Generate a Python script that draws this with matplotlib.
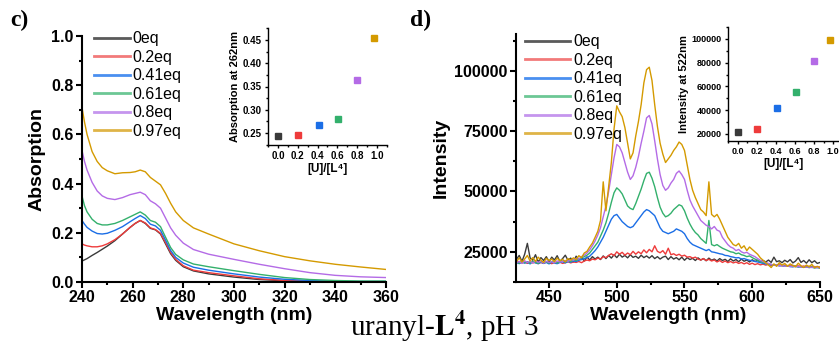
import matplotlib
matplotlib.use("Agg")
import matplotlib.pyplot as plt
import numpy as np
from matplotlib import rcParams
from matplotlib.ticker import MultipleLocator, FormatStrFormatter

rcParams["font.family"] = ["Liberation Sans", "DejaVu Sans"]
rcParams["mathtext.fontset"] = "stix"

labels = ["0eq", "0.2eq", "0.41eq", "0.61eq", "0.8eq", "0.97eq"]
colors = ["#3a3a3a", "#ee3b3b", "#1b6ee6", "#33b06c", "#b46be6", "#d49a00"]
legend_colors = ["#5a5a5a", "#f27a7a", "#4a8ff0", "#6cc795", "#c595ee", "#dfb447"]
eq = [0.0, 0.2, 0.41, 0.61, 0.8, 0.97]

# ---- UV-vis absorption (panel c)
wl_abs = [240, 241, 242, 244, 246, 248, 250, 253, 256, 259, 261, 263, 265, 267, 269,
          271, 273, 275, 277, 280, 284, 290, 300, 310, 320, 330, 340, 350, 360]
abs_0 = [0.085, 0.09, 0.095, 0.108, 0.12, 0.133, 0.146, 0.168, 0.195, 0.222, 0.238,
         0.25, 0.238, 0.218, 0.212, 0.195, 0.155, 0.115, 0.088, 0.062, 0.045, 0.033,
         0.02, 0.01, 0.005, 0.002, 0.001, 0.0, 0.0]
abs_02 = [0.155, 0.15, 0.147, 0.143, 0.143, 0.147, 0.155, 0.172, 0.195, 0.222, 0.238,
          0.25, 0.24, 0.22, 0.213, 0.198, 0.16, 0.12, 0.092, 0.066, 0.048, 0.038,
          0.025, 0.013, 0.006, 0.003, 0.002, 0.001, 0.0]
abs_041 = [0.25, 0.235, 0.222, 0.207, 0.197, 0.195, 0.198, 0.21, 0.225, 0.245, 0.258,
           0.27, 0.258, 0.235, 0.228, 0.21, 0.17, 0.128, 0.1, 0.077, 0.06, 0.048,
           0.033, 0.02, 0.011, 0.006, 0.003, 0.002, 0.002]
abs_061 = [0.35, 0.31, 0.285, 0.255, 0.238, 0.232, 0.232, 0.238, 0.25, 0.265, 0.275,
           0.285, 0.272, 0.25, 0.243, 0.225, 0.182, 0.14, 0.112, 0.09, 0.073, 0.062,
           0.046, 0.031, 0.018, 0.01, 0.006, 0.004, 0.004]
abs_08 = [0.535, 0.49, 0.455, 0.405, 0.37, 0.35, 0.34, 0.335, 0.343, 0.355, 0.36,
          0.365, 0.355, 0.33, 0.318, 0.3, 0.26, 0.22, 0.19, 0.158, 0.132, 0.113,
          0.092, 0.072, 0.054, 0.038, 0.027, 0.021, 0.018]
abs_097 = [0.71, 0.65, 0.60, 0.53, 0.49, 0.465, 0.452, 0.44, 0.444, 0.445, 0.448,
           0.455, 0.448, 0.425, 0.41, 0.395, 0.36, 0.32, 0.285, 0.25, 0.22, 0.195,
           0.155, 0.127, 0.103, 0.086, 0.072, 0.061, 0.051]
abs_series = [abs_0, abs_02, abs_041, abs_061, abs_08, abs_097]
abs_262 = [0.244, 0.246, 0.267, 0.281, 0.363, 0.454]

# ---- emission (panel d), intensity in thousands, every 2 nm from 426 to 650
wl_em = np.arange(426, 651, 2)
em_0 = [22.0, 23.5, 21.0, 24.0, 28.5, 22.5, 21.5, 23.8, 20.8, 22.6,
        21.4, 23.0, 20.9, 22.8, 21.6, 23.4, 21.0, 22.2, 23.6, 21.5,
        22.4, 20.8, 23.2, 21.8, 22.6, 21.2, 22.9, 21.6, 23.0, 22.0,
        22.8, 21.8, 23.3, 22.2, 23.5, 22.4, 23.8, 22.6, 24.0, 22.8,
        23.5, 22.5, 23.8, 22.7, 23.2, 22.3, 23.6, 22.6, 23.3, 22.4,
        23.4, 22.2, 23.0, 22.0, 22.8, 23.2, 21.8, 23.0, 22.0, 22.6,
        21.7, 22.8, 21.5, 22.6, 21.8, 22.3, 21.4, 22.5, 21.6, 22.2,
        21.3, 22.4, 21.5, 22.0, 21.2, 22.2, 21.4, 21.9, 21.0, 22.1,
        21.2, 21.8, 20.9, 22.0, 21.1, 21.6, 20.8, 21.7, 21.0, 21.5,
        20.7, 21.4, 20.8, 21.6, 20.6, 22.8, 20.9, 21.3, 20.5, 21.5,
        20.8, 21.8, 20.4, 21.2, 22.6, 20.6, 21.4, 20.3, 21.7, 20.5,
        21.3, 20.2, 20.6]
em_02 = [20.5, 21.0, 20.3, 20.8, 20.2, 20.9, 20.4, 20.7, 20.1, 20.6,
         20.2, 20.8, 20.4, 20.1, 20.6, 20.3, 20.7, 20.2, 20.5, 20.9,
         20.4, 20.8, 20.6, 21.0, 20.5, 21.2, 21.6, 21.3, 22.0, 21.7,
         22.4, 22.0, 23.0, 22.6, 23.5, 24.2, 23.4, 25.0, 24.0, 24.8,
         23.6, 24.5, 23.8, 25.2, 24.0, 25.0, 24.2, 25.8, 24.6, 26.0,
         25.0, 27.5, 25.2, 24.6, 25.5, 24.0, 26.5, 23.8, 24.2, 23.5,
         24.0, 23.2, 23.6, 22.8, 23.0, 22.4, 22.8, 22.0, 21.6, 22.2,
         21.4, 21.9, 21.2, 21.6, 20.8, 21.4, 20.6, 21.2, 20.5, 21.0,
         20.4, 20.8, 20.2, 20.6, 20.0, 20.5, 19.8, 20.3, 19.7, 20.1,
         19.6, 19.9, 19.5, 19.8, 19.4, 19.7, 19.3, 19.6, 19.2, 19.5,
         19.3, 19.1, 19.4, 19.0, 19.2, 18.9, 19.1, 18.8, 19.0, 18.7,
         18.9, 18.6, 18.8]
em_041 = [20.6, 20.1, 20.8, 20.3, 20.7, 20.0, 20.9, 20.4, 20.1, 20.7,
          20.2, 20.6, 20.0, 20.8, 20.3, 20.1, 20.6, 20.9, 20.4, 21.0,
          20.7, 21.2, 21.0, 21.5, 21.8, 22.2, 22.6, 23.2, 24.3, 25.5,
          27.0, 29.0, 31.0, 33.5, 36.0, 38.5, 40.0, 40.5, 39.0, 37.5,
          36.5, 35.5, 35.0, 35.5, 37.0, 38.5, 40.0, 41.5, 42.5, 42.0,
          41.0, 40.0, 37.5, 35.0, 33.5, 33.0, 32.5, 33.0, 33.5, 34.5,
          34.0, 33.5, 32.5, 30.5, 29.0, 28.0, 27.5, 27.0, 26.5, 26.0,
          25.5, 26.0, 25.0, 24.8, 24.5, 24.2, 24.0, 23.5, 23.4, 23.0,
          22.8, 22.5, 22.6, 22.0, 22.2, 21.8, 21.5, 21.3, 21.0, 20.8,
          20.5, 20.2, 20.0, 19.8, 19.6, 19.4, 19.5, 19.2, 19.3, 19.0,
          19.1, 18.9, 18.8, 19.0, 18.7, 18.8, 18.6, 18.7, 18.5, 18.6,
          18.4, 18.5, 18.3]
em_061 = [20.8, 20.2, 21.0, 20.5, 20.9, 20.3, 21.1, 20.6, 20.2, 20.9,
          20.5, 20.8, 20.3, 21.0, 20.6, 20.4, 20.9, 21.2, 20.8, 21.3,
          21.0, 21.6, 21.4, 22.0, 22.5, 23.0, 23.6, 24.5, 26.0, 27.5,
          29.0, 31.5, 34.0, 37.0, 41.0, 45.5, 49.5, 51.5, 50.5, 49.0,
          46.5, 44.0, 43.0, 42.5, 45.0, 48.0, 51.0, 54.5, 57.5, 58.0,
          55.5, 52.0, 47.5, 43.5, 41.0, 39.5, 40.0, 41.0, 42.5, 43.5,
          44.5, 44.0, 42.0, 39.0, 36.5, 34.5, 33.0, 32.0, 30.5, 29.5,
          28.5, 38.0, 28.0, 27.5, 28.0, 27.2, 26.5, 26.0, 25.5, 25.0,
          24.8, 24.2, 24.5, 23.8, 23.5, 23.0, 23.3, 22.6, 22.0, 21.5,
          21.0, 20.6, 20.3, 20.0, 19.8, 19.5, 19.6, 19.3, 19.4, 19.1,
          19.2, 19.0, 18.9, 19.1, 18.8, 18.9, 18.6, 18.8, 18.5, 18.7,
          18.4, 18.6, 18.3]
em_08 = [20.5, 21.0, 20.2, 21.3, 20.6, 21.1, 20.4, 21.2, 20.7, 21.0,
         20.3, 21.1, 20.6, 20.9, 20.4, 21.2, 20.8, 21.0, 21.4, 21.1,
         21.8, 21.5, 22.3, 22.0, 23.0, 23.6, 24.5, 25.8, 27.5, 29.5,
         32.0, 35.0, 39.5, 44.0, 50.0, 57.0, 64.0, 69.5, 68.5, 66.0,
         62.0, 58.0, 55.0, 56.5, 60.0, 64.5, 70.0, 75.0, 80.5, 81.5,
         78.0, 71.0, 63.5, 57.0, 52.5, 50.5, 51.5, 53.5, 55.0, 57.5,
         58.5, 57.0, 55.0, 50.5, 46.5, 44.0, 42.0, 40.0, 38.0, 37.0,
         36.0, 35.5, 34.5, 35.5, 34.0, 33.5, 31.0, 29.5, 28.0, 27.0,
         26.5, 25.5, 26.0, 25.0, 24.5, 24.8, 24.0, 23.5, 23.0, 22.2,
         21.5, 21.0, 20.5, 20.2, 19.8, 19.5, 19.6, 19.2, 19.4, 19.0,
         19.2, 18.9, 19.1, 18.8, 19.0, 18.7, 18.9, 18.6, 18.8, 18.5,
         18.7, 18.4, 18.6]
em_097 = [21.0, 22.5, 20.8, 22.0, 23.5, 21.2, 22.6, 21.0, 22.8, 21.5,
          20.6, 22.3, 21.4, 22.0, 20.9, 22.4, 21.3, 21.9, 20.8, 22.2,
          21.6, 22.5, 21.8, 23.4, 22.6, 24.5, 25.2, 27.0, 28.6, 31.0,
          33.5, 38.0, 54.0, 42.0, 52.0, 62.0, 76.0, 85.5, 83.0, 81.0,
          76.5, 70.0, 63.5, 66.0, 73.0, 79.0, 86.0, 95.0, 100.5, 101.5,
          96.0, 86.0, 77.0, 70.0, 65.5, 62.0, 63.5, 65.0, 67.0, 68.5,
          70.5, 69.5, 67.0, 61.0, 55.0, 50.5, 47.5, 45.0, 42.5, 41.5,
          40.0, 54.0, 40.5, 39.5, 40.5, 38.5, 36.0, 33.5, 31.0, 29.5,
          28.0, 27.5, 28.5, 26.5, 27.5, 25.5, 27.0, 26.0, 25.0, 24.0,
          22.5, 21.5, 20.5, 19.5, 18.5, 20.0, 19.0, 20.5, 19.5, 20.2,
          19.0, 20.0, 19.3, 18.8, 20.3, 19.2, 18.5, 19.5, 18.8, 19.8,
          18.4, 19.0, 18.3]
em_series = [em_0, em_02, em_041, em_061, em_08, em_097]
int_522 = [22000, 24500, 41500, 55000, 81000, 99000]


def style_axes(ax, lw=1.5, size=11.5, tick_len=4):
    ax.spines["top"].set_visible(False)
    ax.spines["right"].set_visible(False)
    ax.spines["left"].set_linewidth(lw)
    ax.spines["bottom"].set_linewidth(lw)
    ax.tick_params(which="major", direction="out", length=tick_len, width=lw,
                   labelsize=size, pad=2)
    ax.tick_params(which="minor", direction="out", length=tick_len * 0.6, width=lw)
    for t in ax.get_xticklabels() + ax.get_yticklabels():
        t.set_fontweight("bold")


fig = plt.figure(figsize=(8.39, 3.46), dpi=100)

# panel c main
ax1 = fig.add_axes([0.0977, 0.185, 0.3623, 0.711])
for y, c, lab in zip(abs_series, colors, labels):
    ax1.plot(wl_abs, y, color=c, lw=1.0, label=lab)
ax1.set_xlim(240, 360)
ax1.set_ylim(0, 1.0)
ax1.xaxis.set_major_locator(MultipleLocator(20))
ax1.xaxis.set_minor_locator(MultipleLocator(10))
ax1.yaxis.set_major_locator(MultipleLocator(0.2))
ax1.yaxis.set_minor_locator(MultipleLocator(0.1))
ax1.yaxis.set_major_formatter(FormatStrFormatter("%.1f"))
style_axes(ax1)
ax1.set_xlabel("Wavelength (nm)", fontsize=14, fontweight="bold", labelpad=1)
ax1.set_ylabel("Absorption", fontsize=14, fontweight="bold", labelpad=4)
leg1 = ax1.legend(loc="upper left", bbox_to_anchor=(0.02, 1.045), frameon=False,
                  fontsize=11.5, handlelength=2.2, handletextpad=0.2,
                  labelspacing=0.22, borderaxespad=0)
for h, c in zip(leg1.get_lines(), legend_colors):
    h.set_color(c)
    h.set_linewidth(2)

# panel c inset
ax1i = fig.add_axes([0.3194, 0.581, 0.1418, 0.338])
for xv, yv, c in zip(eq, abs_262, colors):
    ax1i.plot(xv, yv, "s", color=c, ms=4.5)
ax1i.set_xlim(-0.1, 1.1)
ax1i.set_ylim(0.224, 0.476)
ax1i.xaxis.set_major_locator(MultipleLocator(0.2))
ax1i.xaxis.set_minor_locator(MultipleLocator(0.1))
ax1i.yaxis.set_major_locator(MultipleLocator(0.05))
ax1i.yaxis.set_minor_locator(MultipleLocator(0.025))
ax1i.xaxis.set_major_formatter(FormatStrFormatter("%.1f"))
ax1i.yaxis.set_major_formatter(FormatStrFormatter("%.2f"))
style_axes(ax1i, lw=1.0, size=7, tick_len=2.5)
ax1i.set_xlabel("[U]/[L⁴]", fontsize=8.5, fontweight="bold", labelpad=1)
ax1i.set_ylabel("Absorption at 262nm", fontsize=8, fontweight="bold", labelpad=2)

# panel d main
ax2 = fig.add_axes([0.615, 0.185, 0.3623, 0.717])
for y, c, lab in zip(em_series, colors, labels):
    ax2.plot(wl_em, np.array(y) * 1000, color=c, lw=1.0, label=lab)
ax2.set_xlim(425.6, 650)
ax2.set_ylim(12500, 115300)
ax2.xaxis.set_major_locator(MultipleLocator(50))
ax2.xaxis.set_minor_locator(MultipleLocator(25))
ax2.yaxis.set_major_locator(MultipleLocator(25000))
ax2.yaxis.set_minor_locator(MultipleLocator(12500))
style_axes(ax2)
ax2.set_xlabel("Wavelength (nm)", fontsize=14, fontweight="bold", labelpad=1)
ax2.set_ylabel("Intensity", fontsize=14, fontweight="bold", labelpad=3)
leg2 = ax2.legend(loc="upper left", bbox_to_anchor=(0.01, 1.025), frameon=False,
                  fontsize=11.5, handlelength=2.8, handletextpad=0.2,
                  labelspacing=0.22, borderaxespad=0)
for h, c in zip(leg2.get_lines(), legend_colors):
    h.set_color(c)
    h.set_linewidth(2)

# panel d inset
ax2i = fig.add_axes([0.8677, 0.5925, 0.1323, 0.3295])
for xv, yv, c in zip(eq, int_522, colors):
    ax2i.plot(xv, yv, "s", color=c, ms=4.5)
ax2i.set_xlim(-0.105, 1.063)
ax2i.set_ylim(14100, 110000)
ax2i.xaxis.set_major_locator(MultipleLocator(0.2))
ax2i.xaxis.set_minor_locator(MultipleLocator(0.1))
ax2i.yaxis.set_major_locator(MultipleLocator(20000))
ax2i.yaxis.set_minor_locator(MultipleLocator(10000))
ax2i.xaxis.set_major_formatter(FormatStrFormatter("%.1f"))
style_axes(ax2i, lw=1.0, size=6.5, tick_len=2.5)
ax2i.set_xlabel("[U]/[L⁴]", fontsize=8.5, fontweight="bold", labelpad=1)
ax2i.set_ylabel("Intensity at 522nm", fontsize=8, fontweight="bold", labelpad=2)

# panel letters and caption
fig.text(0.012, 0.925, "c)", fontsize=17, fontweight="bold", family="Liberation Serif")
fig.text(0.489, 0.925, "d)", fontsize=17, fontweight="bold", family="Liberation Serif")
fig.text(0.53, 0.028, r"uranyl-$\mathbf{L^4}$, pH 3", fontsize=21,
         family="Liberation Serif", ha="center", va="baseline")

fig.savefig("out.png", dpi=100)
